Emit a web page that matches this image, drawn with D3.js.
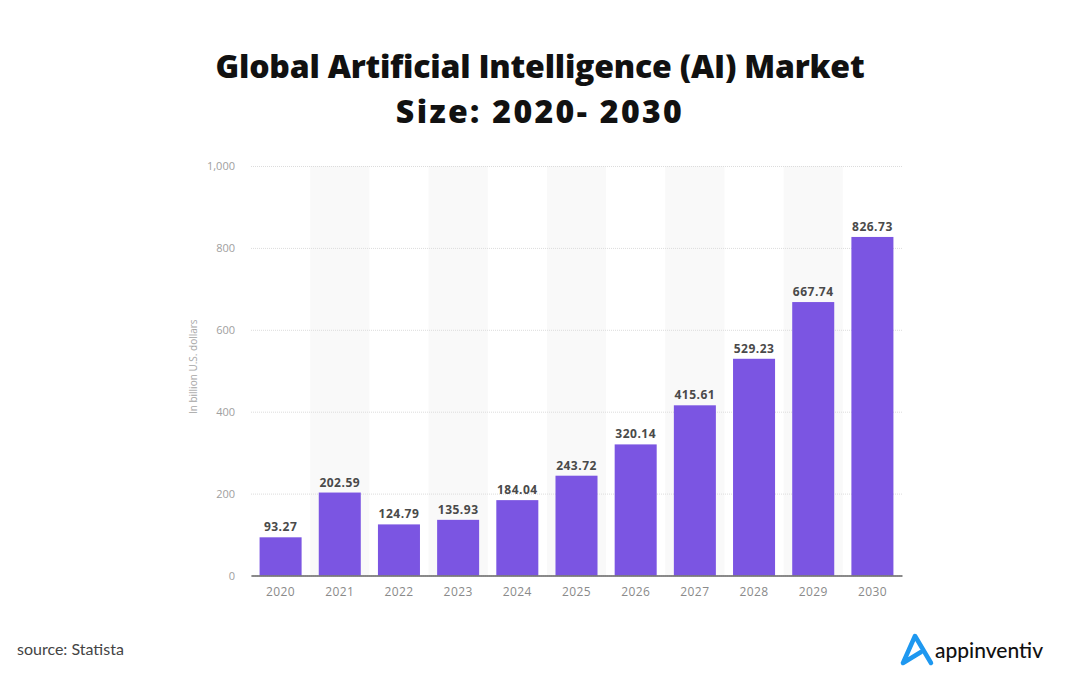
<!DOCTYPE html>
<html>
<head>
<meta charset="utf-8">
<script src="https://cdn.jsdelivr.net/npm/d3@7"></script>
<style>
  body { margin: 0; background: #fff; }
  svg { display: block; }
</style>
</head>
<body>
<svg id="chart" width="1080" height="681"></svg>
<script>
// chart data
var years = ["2020", "2021", "2022", "2023", "2024", "2025", "2026", "2027", "2028", "2029", "2030"]
var marketSize = [93.27, 202.59, 124.79, 135.93, 184.04, 243.72, 320.14, 415.61, 529.23, 667.74, 826.73]
var yTicks = [0, 200, 400, 600, 800, 1000]

var svg = d3.select("#chart")
var margin = {top: 166, left: 251, right: 178, bottom: 105.5}
var width = 1080 - margin.left - margin.right
var height = 681 - margin.top - margin.bottom

// ---------------------------//
//       TITLE                //
// ---------------------------//
var titleFont = "'Open Sans', Lato, sans-serif"
var titleLines = [
  {text: "Global Artificial Intelligence (AI) Market", y: 78, w: 649},
  {text: "Size: 2020- 2030", y: 123, w: 286}
]
titleLines.forEach(function(l){
  var t = svg.append("text")
    .attr("x", 540).attr("y", l.y)
    .attr("text-anchor", "middle")
    .style("font-family", titleFont)
    .style("font-weight", 800)
    .style("font-size", "32px")
    .style("fill", "#111")
    .text(l.text)
  // stretch letter spacing a little so the line is as wide as the original
  var len = t.node().getComputedTextLength()
  var extra = (l.w - len) / (l.text.length - 1)
  t.style("letter-spacing", extra + "px")
})

var g = svg.append("g")
  .attr("transform", "translate(" + margin.left + "," + margin.top + ")")

// ---------------------------//
//       AXIS  AND SCALE      //
// ---------------------------//
var x = d3.scaleBand()
  .domain(years)
  .range([0, width])
  .paddingInner(0.29)
  .paddingOuter(0.145)

var y = d3.scaleLinear()
  .domain([0, 1000])
  .range([height, 0])

// alternating column shading
g.append("g")
  .selectAll("rect")
  .data(years.filter(function(d, i){ return i % 2 == 1 }))
  .enter()
  .append("rect")
    .attr("x", function(d){ return x(d) - x.step() * x.paddingInner() / 2 })
    .attr("y", 0)
    .attr("width", x.step())
    .attr("height", height)
    .style("fill", "#f9f9f9")

// grid lines
var yAxis = d3.axisLeft(y)
  .tickValues(yTicks)
  .tickSize(-width)
  .tickPadding(16)
  .tickFormat(d3.format(","))

var yg = g.append("g").call(yAxis)
yg.select(".domain").remove()
yg.selectAll(".tick line")
  .style("stroke", "#dcdcdc")
  .style("stroke-dasharray", "1,1")
yg.selectAll(".tick text")
  .style("font-family", "'Open Sans', sans-serif")
  .style("font-size", "11px")
  .style("fill", "#a0a0a0")

// y axis title
g.append("text")
  .attr("transform", "translate(-54," + (y(500) - 4) + ") rotate(-90)")
  .attr("text-anchor", "middle")
  .style("font-family", "'Open Sans', sans-serif")
  .style("font-size", "10px")
  .style("fill", "#a6a6a6")
  .text("In billion U.S. dollars")

// ---------------------------//
//       BARS                 //
// ---------------------------//
var data = years.map(function(d, i){ return {year: d, value: marketSize[i]} })

g.append("g")
  .selectAll("rect")
  .data(data)
  .enter()
  .append("rect")
    .attr("x", function(d){ return x(d.year) })
    .attr("y", function(d){ return y(d.value) })
    .attr("width", x.bandwidth())
    .attr("height", function(d){ return height - y(d.value) })
    .style("fill", "#7b55e2")

g.append("g")
  .selectAll("text")
  .data(data)
  .enter()
  .append("text")
    .attr("x", function(d){ return x(d.year) + x.bandwidth() / 2 })
    .attr("y", function(d){ return y(d.value) - 6 })
    .attr("text-anchor", "middle")
    .style("font-family", "'Open Sans', sans-serif")
    .style("font-weight", 700)
    .style("font-size", "12px")
    .style("letter-spacing", "0.5px")
    .style("fill", "#4a4a4a")
    .text(function(d){ return d3.format(".2f")(d.value) })

// x axis
var xg = g.append("g")
  .attr("transform", "translate(0," + height + ")")
  .call(d3.axisBottom(x).tickSize(0).tickPadding(12))
xg.select(".domain")
  .style("stroke", "#666")
  .style("stroke-width", 1.5)
xg.selectAll(".tick text")
  .style("font-family", "'Open Sans', sans-serif")
  .style("font-size", "12px")
  .style("letter-spacing", "0.4px")
  .style("fill", "#8a8a8a")

// ---------------------------//
//       FOOTER               //
// ---------------------------//
svg.append("text")
  .attr("x", 17).attr("y", 655)
  .style("font-family", "Lato, sans-serif")
  .style("font-size", "16px")
  .style("fill", "#444")
  .text("source: Statista")

var logo = svg.append("g")
logo.append("path")
  .attr("d", "M903,663 L915,636 L931,663 M903,663 L921,652")
  .style("fill", "none")
  .style("stroke", "#1e98f0")
  .style("stroke-width", 4.5)
  .style("stroke-linecap", "round")
  .style("stroke-linejoin", "round")
logo.append("text")
  .attr("x", 935).attr("y", 658)
  .style("font-family", "Lato, sans-serif")
  .style("font-weight", 500)
  .style("font-size", "21px")
  .style("fill", "#111")
  .text("appinventiv")
</script>
</body>
</html>
